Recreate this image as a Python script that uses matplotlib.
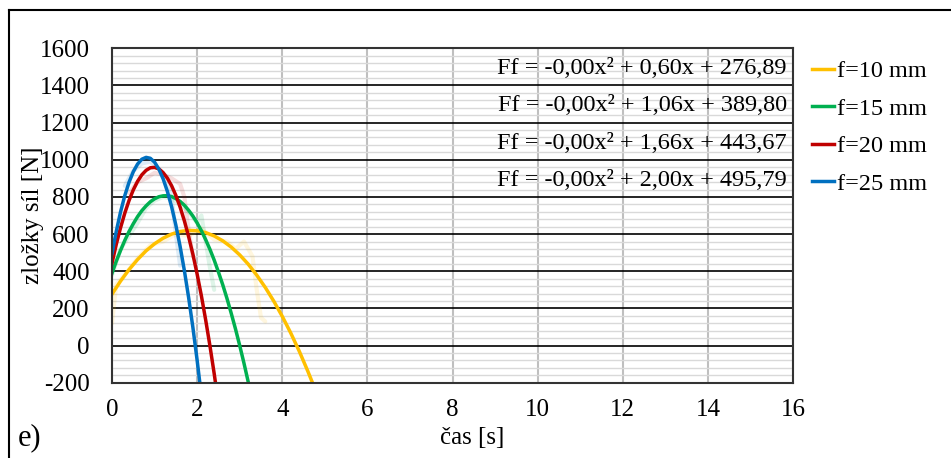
import matplotlib
matplotlib.use("Agg")
import matplotlib.pyplot as plt
from matplotlib.lines import Line2D
import numpy as np

plt.rcParams['font.family'] = ['Liberation Serif', 'DejaVu Serif']
plt.rcParams['axes.unicode_minus'] = False

# trend curves (time [s], force [N])
t_10 = [0, 0.2, 0.4, 0.6, 0.8, 1.0, 1.2, 1.4, 1.6, 1.8, 2.0, 2.2, 2.4, 2.6, 2.8, 3.0,
        3.2, 3.4, 3.6, 3.8, 4.0, 4.2, 4.4, 4.6, 4.8]
f_10 = [277, 347, 409, 463, 510, 548, 578, 600, 614, 620, 618, 608, 590, 564, 530, 488,
        438, 379, 313, 239, 157, 67, -31, -138, -252]

t_15 = [0, 0.1, 0.2, 0.3, 0.4, 0.5, 0.6, 0.7, 0.8, 0.9, 1.0, 1.1, 1.2, 1.3, 1.4, 1.5, 1.6,
        1.7, 1.8, 1.9, 2.0, 2.1, 2.2, 2.3, 2.4, 2.5, 2.6, 2.7, 2.8, 2.9, 3.0, 3.1, 3.2, 3.3]
f_15 = [390, 454, 512, 566, 614, 656, 694, 726, 752, 774, 790, 801, 806, 807, 802, 791, 776,
        755, 728, 697, 660, 618, 570, 518, 460, 396, 328, 254, 174, 90, 0, -95, -196, -301]

t_20 = [0, 0.1, 0.2, 0.3, 0.4, 0.5, 0.6, 0.7, 0.8, 0.9, 1.0, 1.1, 1.2, 1.3, 1.4, 1.5, 1.6,
        1.7, 1.8, 1.9, 2.0, 2.1, 2.2, 2.3, 2.4, 2.5]
f_20 = [444, 545, 634, 713, 781, 838, 884, 919, 943, 957, 959, 951, 931, 901, 860, 808, 745,
        671, 586, 491, 384, 267, 138, -1, -151, -312]

t_25 = [0, 0.1, 0.2, 0.3, 0.4, 0.5, 0.6, 0.7, 0.8, 0.9, 1.0, 1.1, 1.2, 1.3, 1.4, 1.5, 1.6,
        1.7, 1.8, 1.9, 2.0, 2.1]
f_25 = [496, 615, 719, 807, 879, 936, 977, 1003, 1013, 1008, 987, 950, 898, 830, 747, 648, 533,
        403, 258, 97, -80, -272]

# faint measured data behind the trends
raw_t_10 = [0, 0.1, 0.3, 0.6, 0.9, 1.2, 1.5, 1.8, 2.1, 2.4, 2.7, 2.9, 3.1, 3.3, 3.4, 3.5, 3.6]
raw_f_10 = [120, 330, 380, 470, 540, 560, 600, 590, 630, 570, 560, 520, 560, 480, 300, 150, 130]
raw_t_15 = [0, 0.2, 0.4, 0.6, 0.8, 1.0, 1.2, 1.4, 1.6, 1.8, 2.0, 2.1, 2.2, 2.3, 2.4]
raw_f_15 = [380, 520, 590, 660, 740, 780, 800, 790, 760, 720, 660, 700, 560, 420, 300]
raw_t_20 = [0.4, 0.6, 0.8, 1.0, 1.2, 1.4, 1.6, 1.7, 1.8, 1.9]
raw_f_20 = [820, 880, 900, 930, 920, 900, 870, 800, 620, 480]
raw_t_25 = [0.3, 0.5, 0.7, 0.9, 1.1, 1.3, 1.4, 1.5, 1.6]
raw_f_25 = [860, 940, 980, 990, 950, 900, 800, 600, 430]

labels = ['f=10 mm', 'f=15 mm', 'f=20 mm', 'f=25 mm']
colors = ['#ffc000', '#00b050', '#c00000', '#0070c0']
equations = ['Ff = -0,00x² + 0,60x + 276,89',
             'Ff = -0,00x² + 1,06x + 389,80',
             'Ff = -0,00x² + 1,66x + 443,67',
             'Ff = -0,00x² + 2,00x + 495,79']
eq_y = [1490, 1290, 1090, 890]

fig = plt.figure(figsize=(9.51, 4.58), dpi=100)
ax = fig.add_axes([0.1178, 0.1644, 0.7161, 0.7301])

ax.set_xlim(0, 16)
ax.set_ylim(-200, 1600)
ax.set_xticks(np.arange(0, 17, 2))
ax.set_yticks(np.arange(-200, 1601, 200))
ax.set_yticks(np.arange(-200, 1601, 40), minor=True)

ax.grid(axis='y', which='minor', color='#d9d9d9', lw=1)
ax.grid(axis='y', which='major', color='black', lw=1.2)
ax.grid(axis='x', which='major', color='#bfbfbf', lw=1.5)
ax.set_axisbelow(True)
for s in ax.spines.values():
    s.set_color('#333333')
    s.set_linewidth(1.5)
ax.tick_params(which='both', length=0)
ax.tick_params(axis='y', pad=16, labelsize=18)
ax.tick_params(axis='x', pad=12, labelsize=18)

raws = [(raw_t_10, raw_f_10), (raw_t_15, raw_f_15), (raw_t_20, raw_f_20), (raw_t_25, raw_f_25)]
for (rt, rf), c in zip(raws, colors):
    ax.plot(rt, rf, color=c, lw=3, alpha=0.13, solid_capstyle='round')

curves = [(t_10, f_10), (t_15, f_15), (t_20, f_20), (t_25, f_25)]
handles = []
for (t, f), c, lab in zip(curves, colors, labels):
    h, = ax.plot(t, f, color=c, lw=2.5, label=lab)
    handles.append(h)

for eq, y in zip(equations, eq_y):
    ax.text(15.85, y, eq, ha='right', va='center', fontsize=17.5)

fig.text(33 / 951, 1 - 215 / 458, 'zložky síl [N]', ha='center', va='center',
         rotation=90, fontsize=18)
fig.text(472 / 951, 1 - 438 / 458, 'čas [s]', ha='center', va='center', fontsize=18)
fig.text(18 / 951, 1 - 438 / 458, 'e)', ha='left', va='center', fontsize=22)

fig.legend(handles=handles, loc='upper left', bbox_to_anchor=(0.8435, 0.89),
           frameon=False, fontsize=17.5, handlelength=0.9, handletextpad=0.15,
           labelspacing=0.64, borderaxespad=0)

# outer frame (top and left visible)
fig.add_artist(Line2D([9 / 951, 1.0], [1 - 10 / 458] * 2, color='black', lw=1.5))
fig.add_artist(Line2D([9 / 951] * 2, [0.0, 1 - 10 / 458], color='black', lw=1.5))

fig.savefig('out.png', dpi=100)
